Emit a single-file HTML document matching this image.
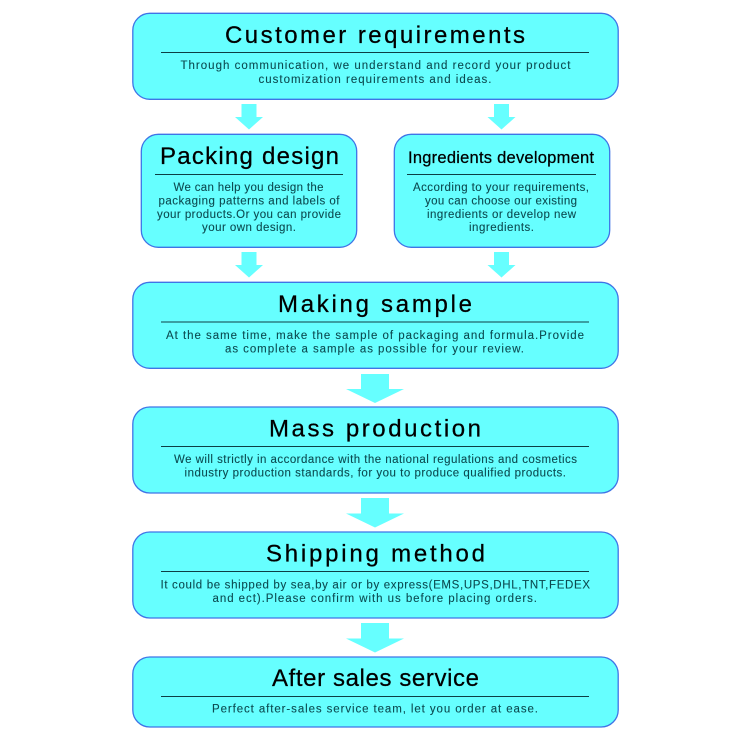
<!DOCTYPE html>
<html>
<head>
<meta charset="utf-8">
<style>
html,body{margin:0;padding:0;background:#fff;width:750px;height:750px;overflow:hidden}
svg{display:block}
.b{fill:#66ffff;stroke:#3f74e6;stroke-width:1.3}
.r{stroke:#0d3f44;stroke-width:1}
.a{fill:#66ffff}
text{font-family:"Liberation Sans",sans-serif;text-anchor:start}
.t{font-size:24px;fill:#000;stroke:#000;stroke-width:.25}
.p{font-size:11.5px;fill:#0c4a50;stroke:#0c4a50;stroke-width:.1}
</style>
</head>
<body>
<svg width="750" height="750" viewBox="0 0 750 750" xmlns="http://www.w3.org/2000/svg">
<rect width="750" height="750" fill="#fff"/>

<rect class="b" x="132.8" y="13.3" width="485.4" height="86" rx="17"/>
<rect class="b" x="141.3" y="134.3" width="215.4" height="113" rx="17"/>
<rect class="b" x="394.3" y="134.3" width="215.4" height="113" rx="17"/>
<rect class="b" x="132.8" y="282.3" width="485.4" height="86" rx="17"/>
<rect class="b" x="132.8" y="407" width="485.4" height="86" rx="17"/>
<rect class="b" x="132.8" y="532" width="485.4" height="86" rx="17"/>
<rect class="b" x="132.8" y="657" width="485.4" height="70" rx="17"/>

<line class="r" x1="161" y1="52.5" x2="589" y2="52.5"/>
<line class="r" x1="155" y1="174.5" x2="343" y2="174.5"/>
<line class="r" x1="407" y1="174.5" x2="596" y2="174.5"/>
<line class="r" x1="161" y1="322" x2="589" y2="322"/>
<line class="r" x1="161" y1="446.5" x2="589" y2="446.5"/>
<line class="r" x1="161" y1="571.5" x2="589" y2="571.5"/>
<line class="r" x1="161" y1="696.5" x2="589" y2="696.5"/>

<polygon class="a" points="241.5,104 256.5,104 256.5,117 263,117 249,129.5 235,117 241.5,117"/>
<polygon class="a" points="494,104 509,104 509,117 515.500,117 501.500,129.500 487.500,117 494,117"/>
<polygon class="a" points="241.5,252 256.500,252 256.500,265 263,265 249,277.500 235,265 241.500,265"/>
<polygon class="a" points="494,252 509,252 509,265 515.500,265 501.500,277.500 487.500,265 494,265"/>
<polygon class="a" points="361,374 389,374 389,389 404,389 375,403 346,389 361,389"/>
<polygon class="a" points="361,498 389,498 389,513.500 404,513.500 375,527.500 346,513.500 361,513.500"/>
<polygon class="a" points="361,623 389,623 389,638.500 404,638.500 375,652.500 346,638.500 361,638.500"/>

<text class="t" x="225" y="43" textLength="300" lengthAdjust="spacing">Customer requirements</text>
<text class="p" x="180.500" y="69" textLength="390" lengthAdjust="spacing">Through communication, we understand and record your product</text>
<text class="p" x="258.500" y="83" textLength="233" lengthAdjust="spacing">customization requirements and ideas.</text>

<text class="t" x="160" y="164" textLength="179" lengthAdjust="spacing">Packing design</text>
<text class="p" x="173.500" y="191" textLength="150" lengthAdjust="spacing">We can help you design the</text>
<text class="p" x="158.500" y="204.500" textLength="181" lengthAdjust="spacing">packaging patterns and labels of</text>
<text class="p" x="157" y="218" textLength="184" lengthAdjust="spacing">your products.Or you can provide</text>
<text class="p" x="202" y="231" textLength="94" lengthAdjust="spacing">your own design.</text>

<text class="t" style="font-size:16.500px" x="408" y="163" textLength="186" lengthAdjust="spacing">Ingredients development</text>
<text class="p" x="413" y="191" textLength="176" lengthAdjust="spacing">According to your requirements,</text>
<text class="p" x="425" y="204.500" textLength="152" lengthAdjust="spacing">you can choose our existing</text>
<text class="p" x="427" y="218" textLength="149" lengthAdjust="spacing">ingredients or develop new</text>
<text class="p" x="469" y="231" textLength="65" lengthAdjust="spacing">ingredients.</text>

<text class="t" x="278" y="312" textLength="194" lengthAdjust="spacing">Making sample</text>
<text class="p" x="166" y="339" textLength="418" lengthAdjust="spacing">At the same time, make the sample of packaging and formula.Provide</text>
<text class="p" x="225" y="352.500" textLength="299" lengthAdjust="spacing">as complete a sample as possible for your review.</text>

<text class="t" x="269" y="436.500" textLength="212" lengthAdjust="spacing">Mass production</text>
<text class="p" x="174" y="463" textLength="403" lengthAdjust="spacing">We will strictly in accordance with the national regulations and cosmetics</text>
<text class="p" x="184.500" y="476.500" textLength="381.500" lengthAdjust="spacing">industry production standards, for you to produce qualified products.</text>

<text class="t" x="266" y="561.500" textLength="219" lengthAdjust="spacing">Shipping method</text>
<text class="p" x="160.500" y="588.500" textLength="429.500" lengthAdjust="spacing">It could be shipped by sea,by air or by express(EMS,UPS,DHL,TNT,FEDEX</text>
<text class="p" x="212.500" y="602" textLength="324.500" lengthAdjust="spacing">and ect).Please confirm with us before placing orders.</text>

<text class="t" x="272" y="686" textLength="207" lengthAdjust="spacing">After sales service</text>
<text class="p" x="212" y="712.500" textLength="326" lengthAdjust="spacing">Perfect after-sales service team, let you order at ease.</text>
</svg>
</body>
</html>
